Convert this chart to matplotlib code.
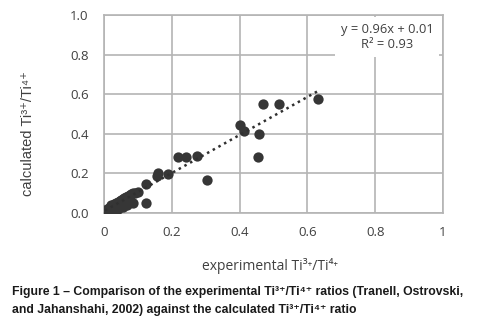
import numpy as np
import matplotlib
matplotlib.use('Agg')
import matplotlib.pyplot as plt

# data
exp_ratio = [0.003, 0.01, 0.015, 0.02, 0.027, 0.03, 0.035, 0.04, 0.047, 0.05,
             0.055, 0.06, 0.065, 0.07, 0.077, 0.08, 0.087, 0.092, 0.1, 0.057,
             0.067, 0.087, 0.124, 0.124, 0.155, 0.16, 0.19, 0.219, 0.242, 0.273,
             0.303, 0.40, 0.414, 0.455, 0.457, 0.47, 0.517, 0.632,
             0.012, 0.025, 0.045, 0.075, 0.04, 0.02]
calc_ratio = [0.012, 0.02, 0.025, 0.03, 0.035, 0.045, 0.05, 0.055, 0.06, 0.065,
              0.07, 0.075, 0.08, 0.085, 0.09, 0.095, 0.10, 0.103, 0.106, 0.03,
              0.04, 0.05, 0.146, 0.049, 0.185, 0.202, 0.195, 0.283, 0.283, 0.287,
              0.165, 0.443, 0.414, 0.284, 0.397, 0.552, 0.552, 0.576,
              0.01, 0.015, 0.03, 0.06, 0.02, 0.04]
fit_slope = 0.96
fit_icpt = 0.01
x_ticks = [0, 0.2, 0.4, 0.6, 0.8, 1.0]
x_ticklabels = ['0', '0.2', '0.4', '0.6', '0.8', '1']
y_ticks = [0.0, 0.2, 0.4, 0.6, 0.8, 1.0]
y_ticklabels = ['0.0', '0.2', '0.4', '0.6', '0.8', '1.0']

txt_col = '#404040'
grid_col = '#b4b4b4'
calib = ['Open Sans', 'DejaVu Sans']
arial = ['Liberation Sans', 'DejaVu Sans']

fig = plt.figure(figsize=(4.78, 3.26), dpi=100)
ax1 = fig.add_axes([104/478, 1 - 213/326, 339/478, 198/326])

ax1.scatter(exp_ratio, calc_ratio, s=55, color='#363636', zorder=3, linewidths=0)

# dotted trend line
xfit = np.array([min(exp_ratio), max(exp_ratio)])
ax1.plot(xfit, fit_slope*xfit + fit_icpt, linestyle=(0, (1, 1.6)), color='#303030', lw=1.8, zorder=4)

ax1.set_xlim(0, 1)
ax1.set_ylim(0, 1)
ax1.set_xticks(x_ticks)
ax1.set_xticklabels(x_ticklabels, fontfamily='Open Sans', fontsize=9.5, color=txt_col)
ax1.set_yticks(y_ticks)
ax1.set_yticklabels(y_ticklabels, fontfamily='Open Sans', fontsize=9.5, color=txt_col)
ax1.tick_params(length=0, pad=11)
ax1.tick_params(axis='x', pad=9)
ax1.grid(True, color=grid_col, lw=1.2, zorder=0)
ax1.set_axisbelow(True)
for sp in ax1.spines.values():
    sp.set_color(grid_col)
    sp.set_linewidth(1.2)

# axis labels
ax1.set_xlabel('experimental Ti³⁺/Ti⁴⁺', fontfamily=calib, fontsize=10, color=txt_col)
ax1.xaxis.set_label_coords(0.49, -0.225)
ax1.set_ylabel('calculated Ti³⁺/Ti⁴⁺', fontfamily=arial, fontsize=10.5, color=txt_col)
ax1.yaxis.set_label_coords(-0.205, 0.40)

# equation box
ax1.text(0.835, 0.96, 'y = 0.96x + 0.01\nR² = 0.93',
         transform=ax1.transAxes, ha='center', va='top', fontfamily=calib,
         fontsize=9.3, color=txt_col, linespacing=1.25, zorder=5,
         bbox=dict(facecolor='white', edgecolor='none', boxstyle='square,pad=0.45'))

# caption
cap1 = 'Figure 1 – Comparison of the experimental Ti³⁺/Ti⁴⁺ ratios (Tranell, Ostrovski,'
cap2 = 'and Jahanshahi, 2002) against the calculated Ti³⁺/Ti⁴⁺ ratio'
fig.text(12/478, 1 - 292/326, cap1, fontfamily=arial, fontweight='bold',
         fontsize=8.8, color='#1a1a1a', va='center', ha='left')
fig.text(12/478, 1 - 310/326, cap2, fontfamily=arial, fontweight='bold',
         fontsize=8.8, color='#1a1a1a', va='center', ha='left')

plt.savefig('out.png', dpi=100)
